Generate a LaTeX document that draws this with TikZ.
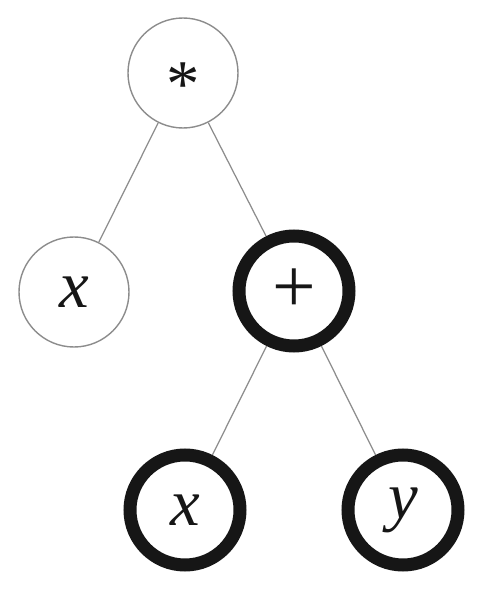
\documentclass[tikz,border=0pt]{standalone}
\usepackage{fontspec}
\setmainfont{Liberation Serif}
\usepackage{tikz}
\usetikzlibrary{positioning}
\definecolor{thin}{HTML}{8C8C8C}
\definecolor{ink}{HTML}{161616}
\tikzset{
  plainnode/.style={circle, draw=thin, line width=0.8pt, minimum size=2.2cm,
                    inner sep=0pt, text=ink, font=\fontsize{38}{46}\selectfont},
  boldnode/.style={plainnode, draw=ink, line width=7.4pt},
  branch/.style={draw=thin, line width=0.7pt},
}
\begin{document}
\begin{tikzpicture}
  \useasboundingbox (0,0) rectangle (9.76,11.94);
  \node[plainnode] (times) at (3.66,10.48) {\smash{\raisebox{-19pt}{*}}};
  \node[plainnode] (xa) at (1.48,6.10) {\textit{x}};
  \node[boldnode, font=\fontsize{44}{52}\selectfont] (plus) at (5.88,6.12) {+};
  \node[boldnode] (xb) at (3.70,1.74) {\textit{x}};
  \node[boldnode] (yb) at (8.06,1.74) {\textit{y}};
  \draw[branch] (times) -- (xa);
  \draw[branch] (times) -- (plus);
  \draw[branch] (plus) -- (xb);
  \draw[branch] (plus) -- (yb);
\end{tikzpicture}
\end{document}
